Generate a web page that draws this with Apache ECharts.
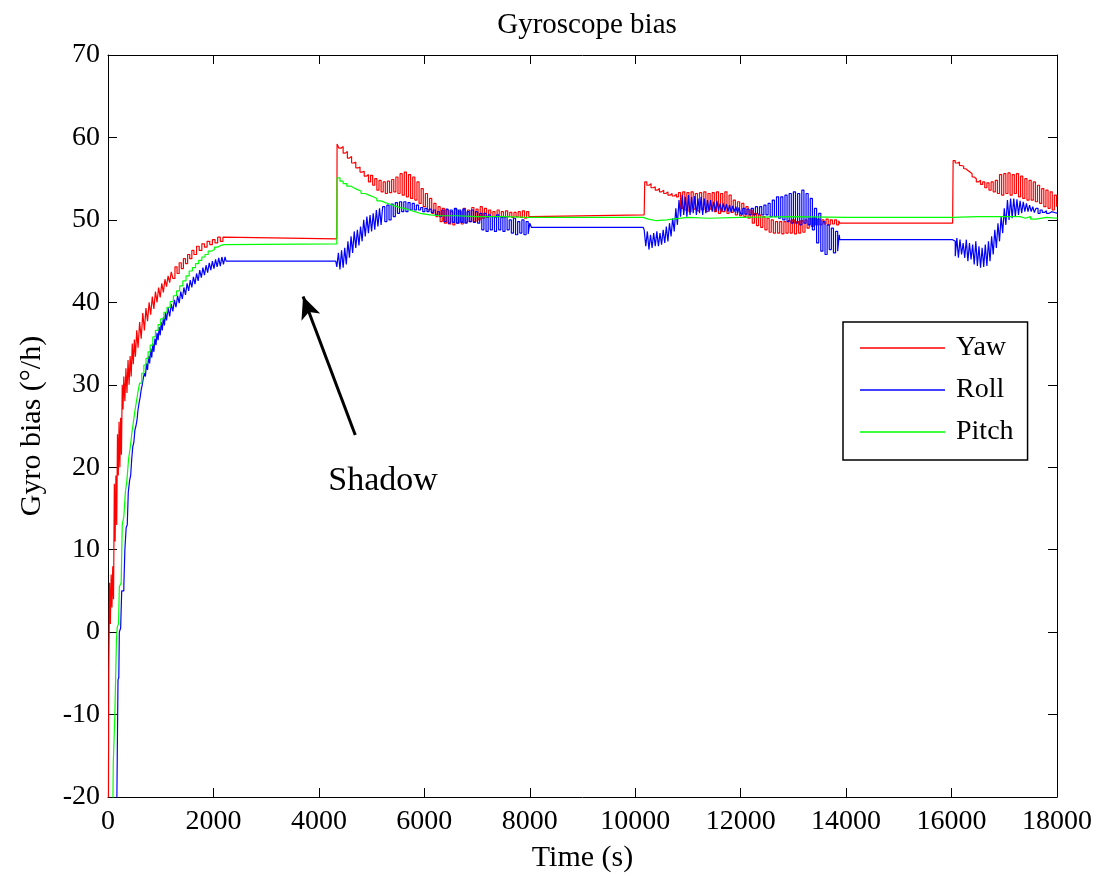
<!DOCTYPE html>
<html>
<head>
<meta charset="utf-8">
<title>Gyroscope bias</title>
<script src="https://cdn.jsdelivr.net/npm/echarts@6/dist/echarts.min.js"></script>
<style>
  html, body { margin: 0; padding: 0; background: #fff; }
  #chart { width: 1101px; height: 876px; }
</style>
</head>
<body>
<div id="chart"></div>
<script>
// Estimated gyro bias per axis, [time (s), bias (deg/h)]
const yawData = [
  [0,-40],[15,-5],[30,6],[45,1],[60,7],[75,3],[90,8],[105,4],[120,18],[135,11],[150,19],[165,13],
  [180,24],[195,19],[210,25.5],[225,20],[240,26],[255,21.5],[270,30],[285,27],[300,31],[320,28],
  [340,32],[360,29],[380,33],[400,30],[420,33.5],[440,31],[460,35],[480,32.5],[500,35.5],[520,33.4],
  [545,36.6],[570,34.5],[600,37.6],[630,35.6],[660,38.7],[690,36.6],[720,39.3],[750,37.7],[780,40],
  [810,38.5],[840,40.7],[870,39.2],[900,41.3],[930,40],[960,41.8],[990,40.6],[1020,42.3],[1050,41.2],
  [1080,42.8],[1110,41.9],[1140,43.2],[1170,42.4],[1200,43.7],[1230,42.9],[1270,44.3],[1310,43.5],
  [1350,44.8],[1390,44.1],[1430,45.3],[1470,44.7],[1510,45.8],[1550,45.3],[1590,46.3],[1630,45.8],
  [1680,46.8],[1730,46.3],[1780,47.1],[1830,46.7],[1880,47.4],[1930,47.0],[1980,47.6],[2030,47.2],
  [2080,47.9],[2130,47.4],[2180,47.9],[2200,47.7],[4340,47.7],
  [4345,59.2],[4380,58.7],[4420,58.9],[4460,58.1],[4500,58.3],[4540,57.5],[4580,57.7],[4620,56.9],
  [4660,57.0],[4700,56.3],[4740,56.4],[4780,55.8],[4820,55.9],[4860,55.3],[4900,55.5],[4940,54.6],
  [4980,55.4],[5020,54.2],[5060,55.0],[5100,53.6],[5140,54.8],[5180,53.4],[5220,54.6],[5260,53.2],
  [5300,54.7],[5340,53.3],[5380,54.9],[5420,53.4],[5460,55.2],[5500,53.2],[5540,55.6],[5580,53.0],
  [5620,55.8],[5660,52.8],[5700,55.5],[5740,52.6],[5780,55.2],[5820,52.4],[5860,54.6],[5900,52.0],
  [5940,53.8],[5980,51.6],[6020,53.2],[6060,51.2],[6100,52.6],[6140,50.8],[6180,52.0],[6220,50.4],
  [6260,51.6],[6300,49.8],[6340,51.4],[6380,49.6],[6420,51.2],[6460,49.5],[6500,51.0],[6540,49.4],
  [6580,51.3],[6620,49.6],[6660,51.0],[6700,49.5],[6740,51.4],[6780,49.7],[6820,51.2],[6860,49.8],
  [6900,51.5],[6940,49.8],[6980,51.3],[7020,50.0],[7060,51.6],[7100,50.2],[7140,51.4],[7180,50.3],
  [7220,51.2],[7260,50.4],[7300,51.0],[7340,50.3],[7380,51.2],[7420,50.4],[7460,51.0],[7500,50.3],
  [7540,51.1],[7580,50.4],[7620,50.9],[7660,50.3],[7700,50.9],[7740,50.4],[7780,51.0],[7820,50.3],
  [7860,51.1],[7900,50.2],[7940,51.0],[7980,50.4],[8020,50.6],[10170,50.6],
  [10180,54.6],[10220,54.2],[10260,54.4],[10300,53.9],[10340,54.0],[10380,53.6],[10420,53.8],
  [10460,53.4],[10500,53.6],[10540,53.2],[10580,53.4],[10620,53.0],[10660,53.2],[10700,52.9],
  [10740,53.1],[10780,52.8],[10820,53.3],[10860,51.4],[10900,53.4],[10940,51.2],[10980,53.3],
  [11020,51.0],[11060,53.4],[11100,51.3],[11140,53.2],[11180,51.1],[11220,53.3],[11260,51.2],
  [11300,53.4],[11340,51.0],[11380,53.2],[11420,51.3],[11460,53.3],[11500,51.0],[11540,53.4],
  [11580,50.8],[11620,53.2],[11660,51.0],[11700,53.4],[11740,50.8],[11780,53.0],[11820,50.9],
  [11860,52.4],[11900,50.6],[11940,52.2],[11980,50.5],[12020,52.0],[12060,50.4],[12100,51.6],
  [12140,50.2],[12180,51.2],[12220,49.6],[12260,50.8],[12300,49.3],[12340,50.6],[12380,49.1],
  [12420,50.4],[12460,48.8],[12500,50.2],[12540,48.5],[12580,50.0],[12620,48.4],[12660,49.8],
  [12700,48.4],[12740,49.8],[12780,48.3],[12820,49.8],[12860,48.4],[12900,49.9],[12940,48.4],
  [12980,50.0],[13020,48.3],[13060,49.8],[13100,48.4],[13140,49.9],[13180,48.5],[13220,50.0],
  [13260,49.0],[13300,50.2],[13340,49.2],[13380,50.3],[13420,49.4],[13460,50.1],[13500,49.4],
  [13540,50.0],[13580,49.5],[13620,50.1],[13660,49.4],[13700,50.0],[13740,49.5],[13780,50.0],
  [13820,49.4],[13860,49.9],[13880,49.6],[16020,49.6],
  [16030,57.2],[16070,56.9],[16110,57.0],[16150,56.6],[16190,56.5],[16230,56.2],[16270,56.0],
  [16310,55.8],[16350,55.6],[16390,55.2],[16430,55.0],[16470,54.6],[16510,54.8],[16550,54.3],
  [16590,54.6],[16630,53.9],[16670,54.5],[16710,53.6],[16750,54.6],[16790,53.4],[16830,54.8],
  [16870,53.2],[16910,55.5],[16950,53.0],[16990,55.6],[17030,53.2],[17070,55.7],[17110,53.0],
  [17150,55.5],[17190,53.2],[17230,55.6],[17270,52.8],[17310,55.3],[17350,52.6],[17390,55.0],
  [17430,52.4],[17470,54.8],[17510,52.4],[17550,54.6],[17590,52.2],[17630,54.2],[17670,52.0],
  [17710,53.8],[17750,51.6],[17790,53.6],[17830,51.4],[17870,53.4],[17910,51.2],[17950,53.0],
  [17990,51.6],[18000,52.0]
];

const rollData = [
  [0,-40],[150,-35],[170,-19],[180,-12],[190,-5.8],[205,-5.5],[215,0],[240,0.5],[260,5],[300,5.5],
  [320,10],[345,12.7],[365,13],[385,17],[410,18.4],[430,19],[450,21],[470,22.5],[490,23],[510,24.5],
  [530,25],[550,25.7],[570,27],[590,27.8],[610,28.5],[630,29.4],[650,30],[670,30.8],[690,31.4],
  [710,31],[730,32.6],[750,31.8],[770,33.5],[790,32.6],[810,34.4],[830,33.3],[850,35],[870,34],
  [890,35.6],[910,34.8],[930,36.3],[950,35.4],[970,37],[990,36],[1010,37.6],[1030,36.6],[1050,38.2],
  [1070,37.2],[1090,38.8],[1110,37.8],[1140,39.3],[1170,38.3],[1200,39.8],[1230,38.9],[1260,40.3],
  [1290,39.4],[1320,40.8],[1350,39.9],[1380,41.3],[1410,40.4],[1440,41.8],[1470,40.9],[1500,42.3],
  [1530,41.4],[1560,42.7],[1590,41.8],[1620,43.1],[1650,42.2],[1680,43.5],[1710,42.6],[1740,43.9],
  [1770,43],[1800,44.2],[1830,43.3],[1860,44.5],[1890,43.6],[1920,44.8],[1950,43.9],[1980,45],
  [2010,44.1],[2040,45.2],[2070,44.3],[2100,45.4],[2130,44.4],[2160,45.5],[2190,44.6],[2220,45.5],
  [2240,45.0],[4320,45.0],
  [4340,44.3],[4370,46.0],[4400,44.0],[4430,46.3],[4460,44.2],[4490,46.6],[4520,44.6],[4550,47.4],
  [4580,45.4],[4610,48.0],[4640,46.0],[4670,48.6],[4700,46.6],[4730,48.8],[4760,46.9],[4790,49.2],
  [4820,47.4],[4850,50.0],[4880,48.0],[4910,50.4],[4940,48.4],[4970,50.6],[5000,48.6],[5030,50.8],
  [5060,48.8],[5090,51.2],[5120,49.2],[5150,51.4],[5180,49.4],[5210,51.6],[5250,49.8],[5290,51.8],
  [5330,50.0],[5370,51.9],[5410,50.4],[5450,52.1],[5490,50.8],[5530,52.2],[5570,51.0],[5610,52.2],
  [5650,51.0],[5690,52.1],[5730,51.2],[5770,52.0],[5810,51.2],[5850,51.8],[5890,51.2],[5930,51.5],
  [5970,51.0],[6010,51.4],[6050,51.0],[6090,51.3],[6130,50.9],[6170,51.2],[6210,50.6],[6250,51.0],
  [6290,50.4],[6330,51.2],[6370,49.8],[6410,51.3],[6450,49.6],[6490,51.2],[6530,49.7],[6570,51.4],
  [6610,49.6],[6650,51.2],[6690,49.7],[6730,51.3],[6770,49.6],[6810,51.0],[6850,49.8],[6890,51.2],
  [6930,49.7],[6970,51.0],[7010,49.6],[7050,50.8],[7090,48.8],[7130,50.8],[7170,48.6],[7210,50.6],
  [7250,48.8],[7290,50.4],[7330,48.6],[7370,50.6],[7410,48.8],[7450,50.3],[7490,48.6],[7530,50.4],
  [7570,48.8],[7610,50.0],[7650,48.4],[7690,50.2],[7730,48.2],[7770,49.8],[7810,48.4],[7850,50.0],
  [7890,48.2],[7930,49.8],[7970,48.3],[8000,49.6],[8030,49.1],[10150,49.1],
  [10170,48.8],[10200,46.8],[10230,48.6],[10260,46.4],[10290,48.2],[10320,46.6],[10350,48.4],
  [10380,46.8],[10410,48.6],[10440,46.8],[10470,48.4],[10500,47.0],[10530,48.8],[10560,47.2],
  [10590,49.2],[10620,47.4],[10650,49.6],[10680,48.0],[10710,50.2],[10740,48.6],[10770,51.4],
  [10800,49.4],[10830,52.4],[10860,50.4],[10890,53.0],[10920,50.6],[10950,52.8],[10980,50.4],
  [11010,53.0],[11040,50.6],[11070,52.8],[11100,50.8],[11130,52.9],[11160,50.6],[11190,52.6],
  [11220,50.8],[11250,52.8],[11280,50.6],[11310,52.6],[11340,50.8],[11370,52.4],[11400,51.0],
  [11430,52.4],[11460,51.0],[11490,52.2],[11520,51.0],[11550,52.3],[11580,51.1],[11610,52.0],
  [11640,51.0],[11670,52.0],[11700,51.1],[11730,51.9],[11760,51.0],[11790,51.8],[11820,50.9],
  [11850,51.7],[11880,51.0],[11910,51.6],[11940,50.8],[11970,51.5],[12000,50.7],[12040,51.4],
  [12080,50.7],[12120,51.3],[12160,50.6],[12200,51.4],[12240,50.6],[12280,51.6],[12320,50.7],
  [12360,51.6],[12400,50.6],[12440,51.8],[12480,50.6],[12520,52.0],[12560,50.4],[12600,52.4],
  [12640,50.4],[12680,52.8],[12720,50.2],[12760,52.8],[12800,50.0],[12840,53.0],[12880,49.8],
  [12920,53.2],[12960,49.6],[13000,53.4],[13040,49.6],[13080,53.2],[13120,49.4],[13160,53.6],
  [13200,49.6],[13240,53.2],[13280,49.4],[13320,52.6],[13360,48.8],[13400,51.4],[13440,47.2],
  [13480,50.8],[13520,46.2],[13560,49.8],[13600,45.8],[13640,49.4],[13680,46.4],[13720,49.0],
  [13760,46.0],[13800,48.6],[13840,46.2],[13870,48.2],[13880,47.6],[16020,47.6],
  [16040,47.4],[16070,45.6],[16100,47.8],[16130,45.4],[16160,47.6],[16190,45.8],[16220,47.2],
  [16250,45.4],[16280,47.6],[16310,45.0],[16340,47.2],[16370,45.2],[16400,47.0],[16430,44.6],
  [16460,47.4],[16490,44.4],[16520,46.8],[16550,44.2],[16580,46.6],[16610,44.3],[16640,47.0],
  [16670,44.4],[16700,47.4],[16730,45.0],[16760,48.0],[16790,45.8],[16820,48.8],[16850,46.6],
  [16880,49.6],[16910,47.4],[16940,50.4],[16970,48.4],[17000,51.4],[17030,49.4],[17060,52.4],
  [17090,50.0],[17120,52.6],[17150,50.2],[17180,52.6],[17210,50.4],[17240,52.5],[17270,50.6],
  [17300,52.3],[17330,50.8],[17360,52.2],[17390,51.0],[17420,52.0],[17450,51.0],[17480,51.8],
  [17510,51.0],[17540,51.6],[17570,50.9],[17600,51.4],[17640,50.8],[17680,51.2],[17720,50.9],
  [17760,51.1],[17800,50.8],[17850,51.0],[17900,50.9],[17950,50.8],[18000,50.9]
];

const pitchData = [
  [0,-40],[80,-30],[100,-16],[130,-10],[160,-1],[175,0.6],[200,1],[215,5.5],[250,6],[270,13],
  [300,14],[330,17],[360,18.5],[390,21],[420,22.3],[450,24],[480,25.4],[510,26.8],[540,28],
  [570,29.2],[600,30.2],[640,31.4],[680,32.4],[720,33.2],[760,34],[800,34.8],[850,35.8],[900,36.6],
  [950,37.3],[1000,38],[1060,38.8],[1120,39.4],[1180,40.1],[1240,40.8],[1300,41.4],[1360,42],
  [1420,42.6],[1480,43.2],[1540,43.8],[1600,44.2],[1660,44.7],[1720,45.1],[1780,45.5],[1840,45.8],
  [1900,46.2],[1960,46.4],[2020,46.7],[2080,46.9],[2140,47.0],[2200,47.1],[4340,47.1],
  [4345,55.1],[4400,54.7],[4460,54.4],[4530,54.1],[4600,53.9],[4660,53.7],[4720,53.5],[4800,53.2],
  [4880,53.0],[4950,52.8],[5030,52.6],[5100,52.3],[5180,52.1],[5260,51.9],[5350,51.7],[5440,51.5],
  [5530,51.4],[5620,51.2],[5720,51.0],[5820,50.8],[5920,50.7],[6020,50.6],[6110,50.5],[6300,50.5],
  [6600,50.4],[7000,50.4],[7500,50.3],[8000,50.3],[10150,50.3],[10180,50.1],[10250,49.9],
  [10400,50.0],[10600,50.1],[10700,50.3],[11000,50.2],[11400,50.3],[12000,50.4],[13000,50.3],
  [14000,50.3],[16020,50.2],[16050,50.4],[16500,50.4],[17000,50.4],[17300,50.2],[17400,50.4],
  [17500,50.1],[17600,50.3],[17800,50.2],[18000,50.3]
];

// Axis ranges and labels
const xRange = [0, 18000, 2000];
const yRange = [-20, 70, 10];
const titleText = 'Gyroscope bias';
const xName = 'Time (s)';
const yName = 'Gyro bias (°/h)';
const seriesNames = ['Yaw', 'Roll', 'Pitch'];
const seriesColors = ['#ff0000', '#0000ff', '#00ff00'];

// Annotation: arrow pointing at the shadow period, with its caption
const arrowTip = [3700, 40.7];
const arrowTail = [4690, 23.9];
const captionAt = [5216, 18.3];
const captionText = 'Shadow';

const serif = 'Liberation Serif, Times New Roman, serif';
const chart = echarts.init(document.getElementById('chart'), null, { renderer: 'canvas' });

const baseAxis = {
  axisLine: { show: true, onZero: false, lineStyle: { color: '#000', width: 1 } },
  axisTick: { show: true, inside: true, length: 9, lineStyle: { color: '#000', width: 1 } },
  splitLine: { show: false }
};

const series = [yawData, rollData, pitchData].map((d, i) => ({
  name: seriesNames[i],
  type: 'line',
  data: d,
  step: 'end',
  symbol: 'none',
  showSymbol: false,
  clip: true,
  lineStyle: { color: seriesColors[i], width: 1.2 },
  itemStyle: { color: seriesColors[i] },
  z: 2 + i
}));

series[2].markLine = {
  silent: true,
  symbol: ['arrow', 'none'],
  symbolSize: [15, 22],
  label: { show: false },
  lineStyle: { color: '#000', width: 3, type: 'solid' },
  itemStyle: { color: '#000' },
  data: [[{ coord: arrowTip }, { coord: arrowTail }]]
};
series[2].markPoint = {
  silent: true,
  symbol: 'circle',
  symbolSize: 0,
  label: {
    show: true, position: 'inside', formatter: captionText,
    color: '#000', fontFamily: serif, fontSize: 34
  },
  data: [{ coord: captionAt }]
};

chart.setOption({
  animation: false,
  backgroundColor: '#fff',
  title: {
    text: titleText,
    left: 582,
    textAlign: 'center',
    top: 6,
    textStyle: { fontFamily: serif, fontSize: 29, fontWeight: 'normal', color: '#000' }
  },
  legend: {
    data: seriesNames,
    orient: 'vertical',
    left: 843,
    top: 322,
    padding: [12, 14, 14, 17],
    icon: 'rect',
    itemWidth: 85,
    itemHeight: 1.5,
    itemGap: 14,
    backgroundColor: '#fff',
    borderColor: '#000',
    borderWidth: 1.5,
    borderRadius: 0,
    textStyle: { fontFamily: serif, fontSize: 28, lineHeight: 27, color: '#000', padding: [0, 0, 0, 6] }
  },
  grid: { left: 108, right: 44, top: 55, bottom: 79, containLabel: false, outerBoundsMode: 'none' },
  xAxis: [
    Object.assign({}, baseAxis, {
      type: 'value', position: 'bottom',
      min: xRange[0], max: xRange[1], interval: xRange[2],
      name: xName, nameLocation: 'middle', nameGap: 46,
      nameTextStyle: { fontFamily: serif, fontSize: 30, color: '#000' },
      axisLabel: { fontFamily: serif, fontSize: 28, color: '#000', margin: 11, formatter: v => String(v) }
    }),
    Object.assign({}, baseAxis, {
      type: 'value', position: 'top',
      min: xRange[0], max: xRange[1], interval: xRange[2],
      axisLabel: { show: false }
    })
  ],
  yAxis: [
    Object.assign({}, baseAxis, {
      type: 'value', position: 'left',
      min: yRange[0], max: yRange[1], interval: yRange[2],
      name: yName, nameLocation: 'middle', nameGap: 61, nameRotate: 90,
      nameTextStyle: { fontFamily: serif, fontSize: 30, color: '#000' },
      axisLabel: { fontFamily: serif, fontSize: 28, color: '#000', margin: 8, formatter: v => String(v) }
    }),
    Object.assign({}, baseAxis, {
      type: 'value', position: 'right',
      min: yRange[0], max: yRange[1], interval: yRange[2],
      axisLabel: { show: false }
    })
  ],
  series: series
});
</script>
</body>
</html>
